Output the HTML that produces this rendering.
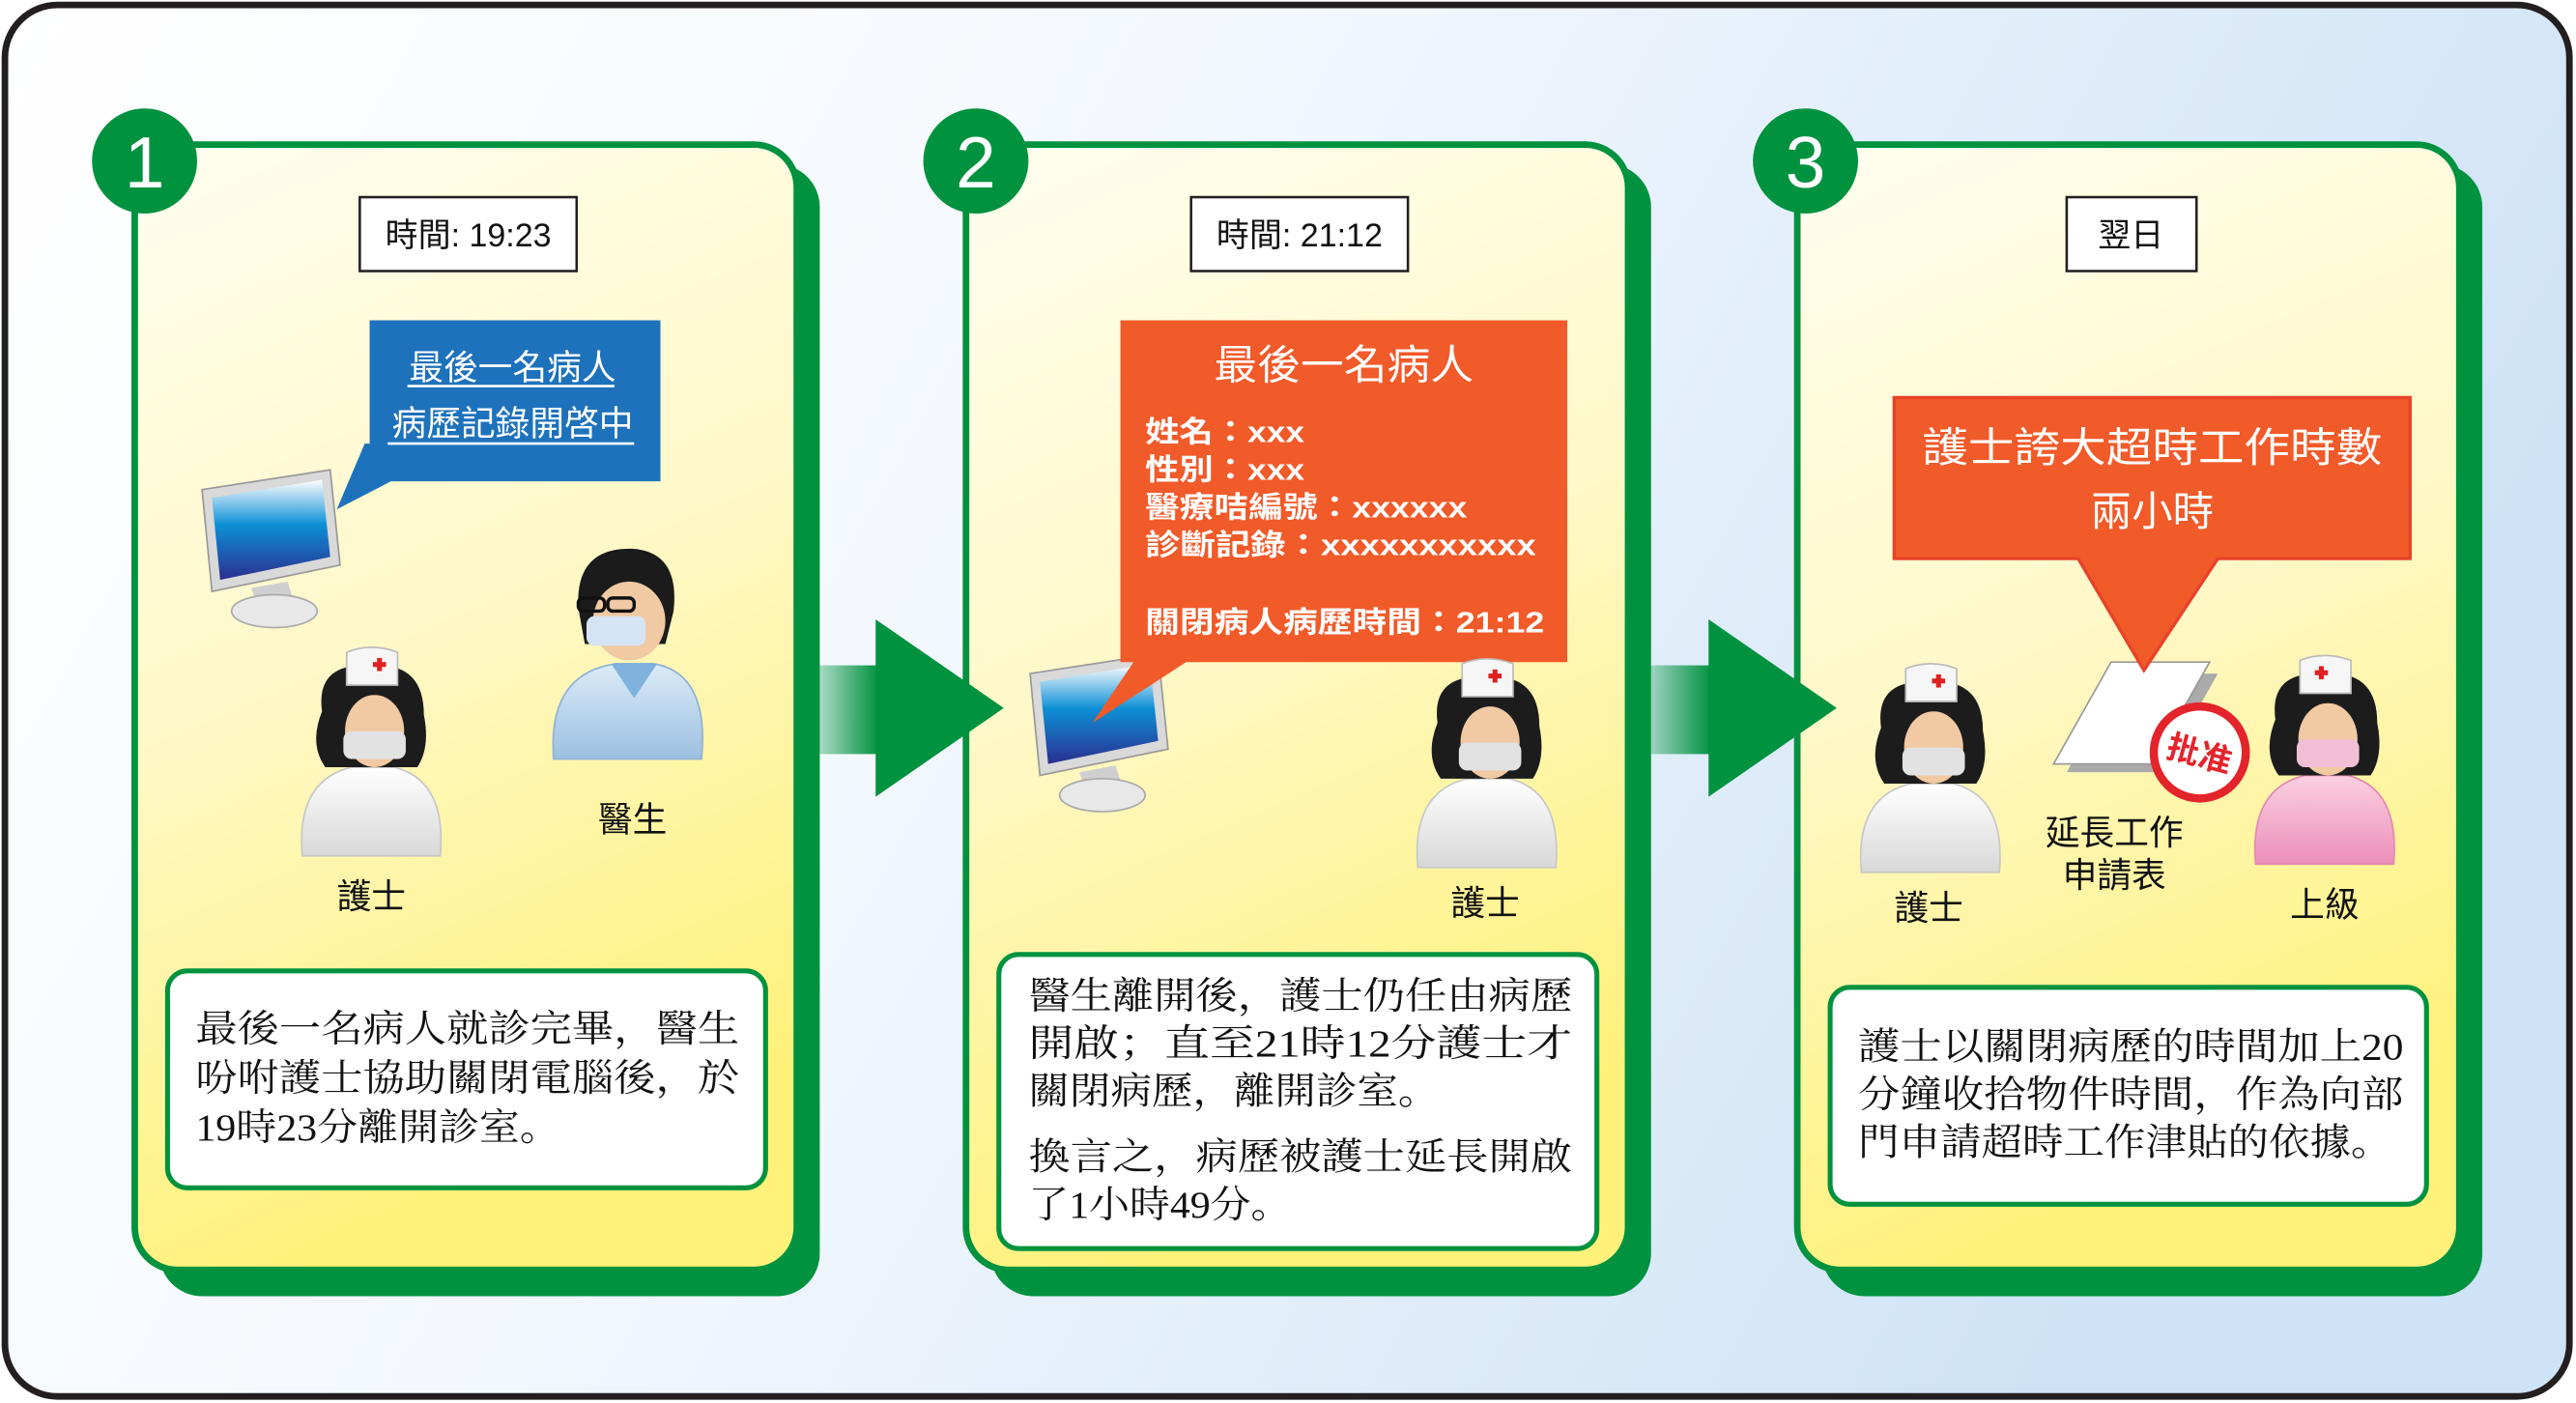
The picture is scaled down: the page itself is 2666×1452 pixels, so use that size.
<!DOCTYPE html>
<html><head><meta charset="utf-8"><style>
html,body{margin:0;padding:0;background:#fff;}
svg{display:block;}
</style></head><body>
<svg width="2666" height="1452" viewBox="0 0 1568 854" preserveAspectRatio="none" xmlns="http://www.w3.org/2000/svg">
<defs>
<linearGradient id="bg" x1="0" y1="0" x2="1" y2="0.3">
<stop offset="0" stop-color="#ffffff"/><stop offset="0.45" stop-color="#f3f8fd"/><stop offset="1" stop-color="#cfe3f6"/></linearGradient>
<linearGradient id="pan" x1="0" y1="0" x2="0.25" y2="1">
<stop offset="0" stop-color="#fffef0"/><stop offset="0.5" stop-color="#fff8c8"/><stop offset="1" stop-color="#fff17a"/></linearGradient>
<linearGradient id="shaft" x1="0" y1="0" x2="1" y2="0">
<stop offset="0" stop-color="#00923f" stop-opacity="0"/><stop offset="1" stop-color="#00923f"/></linearGradient>
<linearGradient id="scr" x1="0" y1="0" x2="0" y2="1">
<stop offset="0" stop-color="#ffffff"/><stop offset="0.45" stop-color="#0d8fd6"/><stop offset="1" stop-color="#2b2f8f"/></linearGradient>
<linearGradient id="body" x1="0" y1="0" x2="0" y2="1">
<stop offset="0" stop-color="#ffffff"/><stop offset="1" stop-color="#d8d8d8"/></linearGradient>
<linearGradient id="pink" x1="0" y1="0" x2="0" y2="1">
<stop offset="0" stop-color="#fbd0e2"/><stop offset="1" stop-color="#ec8fb8"/></linearGradient>
<linearGradient id="doc" x1="0" y1="0" x2="0" y2="1">
<stop offset="0" stop-color="#dcebf7"/><stop offset="1" stop-color="#9cc0e2"/></linearGradient>
<g id="nurse">
<path d="M-42,128 Q-46,82 -12,74 L14,74 Q46,82 42,128 Z" fill="url(#body)" stroke="#c8c8c8"/>
<path d="M-30,40 Q-34,10 0,12 Q32,10 32,42 Q36,62 28,74 L-28,74 Q-38,60 -30,40 Z" fill="#1c1c1c"/>
<ellipse cx="2" cy="52" rx="18" ry="22" fill="#f1c9a3"/>
<rect x="-17" y="52" width="38" height="17" rx="5" fill="#e2e2e2"/>
<path d="M-15,4 Q0,-2 16,4 L16,24 L-15,24 Z" fill="#f6f6f6" stroke="#bbb"/>
<rect x="1" y="10" width="8" height="3" fill="#e02020"/><rect x="3.5" y="7.5" width="3" height="8" fill="#e02020"/>
</g>
<g id="pnurse">
<path d="M-42,128 Q-46,82 -12,74 L14,74 Q46,82 42,128 Z" fill="url(#pink)" stroke="#e58ab0"/>
<path d="M-30,40 Q-34,10 0,12 Q32,10 32,42 Q36,62 28,74 L-28,74 Q-38,60 -30,40 Z" fill="#1c1c1c"/>
<ellipse cx="2" cy="52" rx="18" ry="22" fill="#f1c9a3"/>
<rect x="-17" y="52" width="38" height="17" rx="5" fill="#f3bfd6"/>
<path d="M-15,4 Q0,-2 16,4 L16,24 L-15,24 Z" fill="#f6f6f6" stroke="#bbb"/>
<rect x="-6" y="10" width="8" height="3" fill="#e02020"/><rect x="-3.5" y="7.5" width="3" height="8" fill="#e02020"/>
</g>
<g id="monitor">
<polygon points="0,12 78,0 84,58 6,74" fill="#d9d9d9" stroke="#999"/>
<polygon points="6,17 73,6 78,53 11,67" fill="url(#scr)"/>
<path d="M30,72 L52,68 L56,80 L34,84 Z" fill="#cfcfcf"/>
<ellipse cx="44" cy="86" rx="26" ry="10" fill="#e8e8e8" stroke="#aaa"/>
</g>
</defs>

<rect x="3" y="3" width="1561" height="847" rx="32" fill="url(#bg)" stroke="#231f20" stroke-width="4"/>

<!-- panels -->
<g>
<rect x="97" y="100" width="402" height="689" rx="26" fill="#00923f"/>
<rect x="82" y="88" width="403" height="685" rx="26" fill="url(#pan)" stroke="#00923f" stroke-width="4"/>
<rect x="603" y="100" width="402" height="689" rx="26" fill="#00923f"/>
<rect x="588" y="88" width="403" height="685" rx="26" fill="url(#pan)" stroke="#00923f" stroke-width="4"/>
<rect x="1109" y="100" width="402" height="689" rx="26" fill="#00923f"/>
<rect x="1094" y="88" width="403" height="685" rx="26" fill="url(#pan)" stroke="#00923f" stroke-width="4"/>
</g>
<!-- arrows -->
<rect x="483" y="405" width="52" height="54" fill="url(#shaft)"/>
<polygon points="533,377 611,431 533,485" fill="#00923f"/>
<rect x="989" y="405" width="53" height="54" fill="url(#shaft)"/>
<polygon points="1040,377 1118,431 1040,485" fill="#00923f"/>

<g font-family="Liberation Sans, sans-serif" fill="#fff" font-size="44" text-anchor="middle">
<circle cx="88" cy="98" r="32" fill="#00923f"/><text x="88" y="114">1</text>
<circle cx="594" cy="98" r="32" fill="#00923f"/><text x="594" y="114">2</text>
<circle cx="1099" cy="98" r="32" fill="#00923f"/><text x="1099" y="114">3</text>
</g>

<!-- time boxes -->
<g font-family="Liberation Sans, 'Noto Sans CJK TC', sans-serif" font-size="20" fill="#111" text-anchor="middle">
<rect x="219" y="120" width="132" height="45" fill="#fff" stroke="#231f20" stroke-width="1.5"/>
<text x="285" y="150">時間: 19:23</text>
<rect x="725" y="120" width="132" height="45" fill="#fff" stroke="#231f20" stroke-width="1.5"/>
<text x="791" y="150">時間: 21:12</text>
<rect x="1258" y="120" width="79" height="45" fill="#fff" stroke="#231f20" stroke-width="1.5"/>
<text x="1297" y="150">翌日</text>
</g>

<!-- panel 1 -->
<use href="#monitor" x="123" y="286"/>
<polygon points="225,195 402,195 402,293 238,293 205,310 222,270 225,270" fill="#1e72bb"/>
<g font-family="Liberation Sans, 'Noto Sans CJK TC', sans-serif" font-size="21" fill="#fff" text-anchor="middle">
<text x="312" y="231">最後一名病人</text>
<line x1="248" y1="235" x2="374" y2="235" stroke="#fff" stroke-width="1.5"/>
<text x="312" y="265">病歷記錄開啓中</text>
<line x1="236" y1="270" x2="386" y2="270" stroke="#fff" stroke-width="1.5"/>
</g>
<use href="#nurse" x="226" y="393"/>
<!-- doctor -->
<g>
<path d="M337,462 Q333,410 375,404 L398,404 Q432,410 427,462 Z" fill="url(#doc)" stroke="#8fb3d6"/>
<polygon points="372,404 400,404 386,425" fill="#7fb2dc"/>
<path d="M352,370 Q350,333 385,334 Q414,336 410,372 L405,392 L356,392 Z" fill="#1b1b1b"/>
<ellipse cx="383" cy="378" rx="22" ry="24" fill="#f1c9a3"/>
<rect x="357" y="375" width="36" height="18" rx="5" fill="#d4e4f4"/>
<rect x="352" y="364" width="16" height="8" rx="3" fill="none" stroke="#111" stroke-width="2"/>
<rect x="370" y="364" width="16" height="8" rx="3" fill="none" stroke="#111" stroke-width="2"/>
</g>
<g font-family="Liberation Sans, 'Noto Sans CJK TC', sans-serif" font-size="21" fill="#111" text-anchor="middle">
<text x="385" y="506">醫生</text>
<text x="226" y="553">護士</text>
</g>
<rect x="102" y="591" width="364" height="132" rx="12" fill="#fff" stroke="#00923f" stroke-width="3"/>
<g font-family="Liberation Serif, 'Noto Serif CJK SC', serif" font-size="23" fill="#111">
<text x="119" y="634" textLength="331" lengthAdjust="spacingAndGlyphs">最後一名病人就診完畢，醫生</text>
<text x="119" y="664" textLength="331" lengthAdjust="spacingAndGlyphs">吩咐護士協助關閉電腦後，於</text>
<text x="119" y="694" textLength="222" lengthAdjust="spacingAndGlyphs">19時23分離開診室。</text>
</g>

<!-- panel 2 -->
<use href="#monitor" x="627" y="398"/>
<polygon points="682,195 954,195 954,403 722,403 665,440 690,403 682,403" fill="#f15a29"/>
<g font-family="Liberation Sans, 'Noto Sans CJK TC', sans-serif" fill="#fff">
<text x="818" y="231" font-size="25" text-anchor="middle" textLength="158" lengthAdjust="spacingAndGlyphs">最後一名病人</text>
<g font-size="18" font-weight="bold">
<text x="697" y="269" textLength="97" lengthAdjust="spacingAndGlyphs">姓名：xxx</text>
<text x="697" y="292" textLength="97" lengthAdjust="spacingAndGlyphs">性別：xxx</text>
<text x="697" y="315" textLength="196" lengthAdjust="spacingAndGlyphs">醫療咭編號：xxxxxx</text>
<text x="697" y="338" textLength="238" lengthAdjust="spacingAndGlyphs">診斷記錄：xxxxxxxxxxx</text>
<text x="697" y="385" textLength="243" lengthAdjust="spacingAndGlyphs">關閉病人病歷時間：21:12</text>
</g></g>
<use href="#nurse" x="905" y="400"/>
<text x="904" y="557" font-family="Liberation Sans, 'Noto Sans CJK TC', sans-serif" font-size="21" fill="#111" text-anchor="middle">護士</text>
<rect x="608" y="581" width="364" height="179" rx="12" fill="#fff" stroke="#00923f" stroke-width="3"/>
<g font-family="Liberation Serif, 'Noto Serif CJK SC', serif" font-size="23" fill="#111">
<text x="626" y="614" textLength="331" lengthAdjust="spacingAndGlyphs">醫生離開後，護士仍任由病歷</text>
<text x="626" y="643" textLength="331" lengthAdjust="spacingAndGlyphs">開啟；直至21時12分護士才</text>
<text x="626" y="672" textLength="250" lengthAdjust="spacingAndGlyphs">關閉病歷，離開診室。</text>
<text x="626" y="712" textLength="331" lengthAdjust="spacingAndGlyphs">換言之，病歷被護士延長開啟</text>
<text x="626" y="741" textLength="160" lengthAdjust="spacingAndGlyphs">了1小時49分。</text>
</g>

<!-- panel 3 -->
<polygon points="1258,470 1292,410 1350,410 1316,470" fill="#aaa"/>
<polygon points="1250,465 1285,403 1345,403 1310,465" fill="#fff" stroke="#999"/>
<polygon points="1153,242 1467,242 1467,340 1350,340 1305,408 1265,340 1153,340" fill="#f15a29" stroke="#e8432a" stroke-width="2"/>
<g font-family="Liberation Sans, 'Noto Sans CJK TC', sans-serif" font-size="25" fill="#fff" text-anchor="middle">
<text x="1310" y="281" textLength="280" lengthAdjust="spacingAndGlyphs">護士誇大超時工作時數</text>
<text x="1310" y="320">兩小時</text>
</g>
<circle cx="1339" cy="458" r="28" fill="#fff" stroke="#e3242b" stroke-width="5"/>
<text x="1339" y="466" transform="rotate(15 1339 458)" font-family="Liberation Sans, 'Noto Sans CJK TC', sans-serif" font-size="20" font-weight="bold" fill="#e3242b" text-anchor="middle">批准</text>
<use href="#nurse" x="1175" y="403"/>
<use href="#pnurse" x="1415" y="398"/>
<g font-family="Liberation Sans, 'Noto Sans CJK TC', sans-serif" font-size="21" fill="#111" text-anchor="middle">
<text x="1287" y="514">延長工作</text>
<text x="1287" y="540">申請表</text>
<text x="1174" y="560">護士</text>
<text x="1415" y="558">上級</text>
</g>
<rect x="1114" y="601" width="363" height="132" rx="12" fill="#fff" stroke="#00923f" stroke-width="3"/>
<g font-family="Liberation Serif, 'Noto Serif CJK SC', serif" font-size="23" fill="#111">
<text x="1131" y="645" textLength="332" lengthAdjust="spacingAndGlyphs">護士以關閉病歷的時間加上20</text>
<text x="1131" y="674" textLength="332" lengthAdjust="spacingAndGlyphs">分鐘收拾物件時間，作為向部</text>
<text x="1131" y="703" textLength="325" lengthAdjust="spacingAndGlyphs">門申請超時工作津貼的依據。</text>
</g>
</svg>
</body></html>
